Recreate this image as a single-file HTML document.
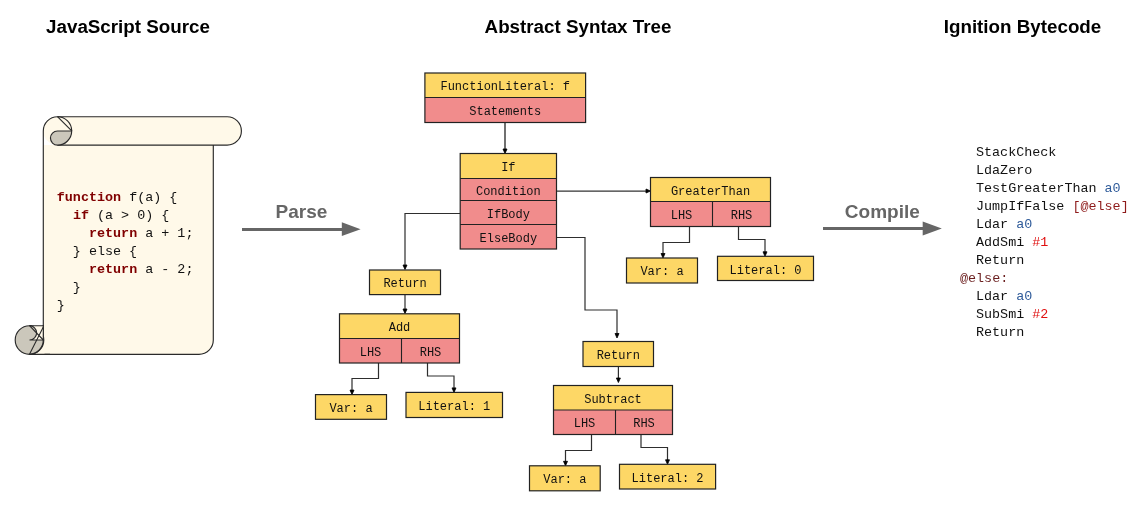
<!DOCTYPE html>
<html><head><meta charset="utf-8"><style>
html,body{margin:0;padding:0;background:#fff;}
svg{display:block;will-change:transform;}
.t{font-family:"Liberation Sans",sans-serif;font-weight:bold;font-size:18.8px;text-anchor:middle;fill:#000;}
.a{font-family:"Liberation Sans",sans-serif;font-weight:bold;font-size:19px;text-anchor:middle;fill:#666;}
.m{font-family:"Liberation Mono",monospace;font-size:12px;text-anchor:middle;fill:#111;}
.c{font-family:"Liberation Mono",monospace;font-size:13.4px;fill:#111;white-space:pre;}
.k{fill:#800000;font-weight:bold;}
.b{fill:#2f5b9a;}
.r{fill:#8e1a1a;}
.rr{fill:#e01010;}
.e{fill:#6b1f1f;}
</style></head><body>
<svg width="1145" height="509" viewBox="0 0 1145 509">
<text x="128" y="32.5" class="t">JavaScript Source</text>
<text x="578" y="32.5" class="t">Abstract Syntax Tree</text>
<text x="1022.5" y="32.5" class="t">Ignition Bytecode</text>
<g stroke="#2a2a2a" stroke-width="1.15" fill="#FFF9E9">
<path d="M43.3,130.7 L43.3,354.3 L199,354.3 A14.3,14.3 0 0 0 213.3,340 L213.3,145.1 L43.3,145.1 Z" stroke="none"/>
<path d="M227.2,116.7 A14.2,14.2 0 0 1 227.2,145.1 L57.5,145.1 A14.2,14.2 0 0 1 57.5,116.7 Z" stroke="none"/>
<path d="M57.5,145.1 L227.2,145.1 A14.2,14.2 0 0 0 227.2,116.7 L57.5,116.7 A14.2,14.2 0 0 0 43.3,130.9 L43.3,340" fill="none"/>
<path d="M57.5,116.7 A14.2,14.2 0 0 1 71.7,130.9" fill="none"/>
<path d="M213.3,145.1 L213.3,340 A14.3,14.3 0 0 1 199,354.3 L29.5,354.3" fill="none"/>
<path d="M57.5,131.0 L71.7,131.0 A14.2,14.2 0 0 1 57.5,145.1 A7.05,7.05 0 0 1 57.5,131.0 Z" fill="#CBC7BB"/>
<path d="M57.5,116.7 L71.7,130.9" fill="none"/>
<rect x="29.5" y="340" width="15" height="14.3" stroke="none"/>
<circle cx="29.5" cy="340" r="14.3" fill="#CBC7BB"/>
<path d="M29.5,325.7 L43.3,325.7 L43.3,340 L29.5,340 A7,7 0 0 0 29.5,325.7 Z" fill="#FFF9E9" stroke="none"/>
<path d="M29.5,325.7 L43.3,325.7 M29.5,340 L43.3,340 M29.5,325.7 A7,7 0 0 1 29.5,340" fill="none"/>
<path d="M29.5,325.7 L43.3,340 M43.3,327 L29.5,354.3" fill="none" stroke-width="1.1"/>
<path d="M43.3,325 L43.3,340 A14.3,14.3 0 0 1 29.5,354.3 L50,354.3" fill="none"/>
</g>
<text x="56.8" y="201" class="c" xml:space="preserve"><tspan class="k">function</tspan> f(a) {</text>
<text x="56.8" y="219" class="c" xml:space="preserve">  <tspan class="k">if</tspan> (a &gt; 0) {</text>
<text x="56.8" y="237" class="c" xml:space="preserve">    <tspan class="k">return</tspan> a + 1;</text>
<text x="56.8" y="255" class="c" xml:space="preserve">  } else {</text>
<text x="56.8" y="273" class="c" xml:space="preserve">    <tspan class="k">return</tspan> a - 2;</text>
<text x="56.8" y="291" class="c" xml:space="preserve">  }</text>
<text x="56.8" y="309" class="c" xml:space="preserve">}</text>
<text x="301.5" y="218" class="a">Parse</text>
<rect x="242" y="228" width="101" height="3" fill="#666"/>
<path d="M341.8,222.2 L360.6,229.2 L341.8,236 Z" fill="#666"/>
<text x="882.3" y="218" class="a">Compile</text>
<rect x="823" y="227" width="101" height="3" fill="#666"/>
<path d="M922.7,221.4 L941.8,228.5 L922.7,235.6 Z" fill="#666"/>
<text x="976" y="156" class="c" xml:space="preserve">StackCheck</text>
<text x="976" y="174" class="c" xml:space="preserve">LdaZero</text>
<text x="976" y="192" class="c" xml:space="preserve">TestGreaterThan <tspan class="b">a0</tspan></text>
<text x="976" y="210" class="c" xml:space="preserve">JumpIfFalse <tspan class="r">[@else]</tspan></text>
<text x="976" y="228" class="c" xml:space="preserve">Ldar <tspan class="b">a0</tspan></text>
<text x="976" y="246" class="c" xml:space="preserve">AddSmi <tspan class="rr">#1</tspan></text>
<text x="976" y="264" class="c" xml:space="preserve">Return</text>
<text x="960" y="282" class="c" xml:space="preserve"><tspan class="e">@else:</tspan></text>
<text x="976" y="300" class="c" xml:space="preserve">Ldar <tspan class="b">a0</tspan></text>
<text x="976" y="318" class="c" xml:space="preserve">SubSmi <tspan class="rr">#2</tspan></text>
<text x="976" y="336" class="c" xml:space="preserve">Return</text>
<path d="M505,122.5 L505,151" fill="none" stroke="#111" stroke-width="1.2"/>
<path d="M503,149.0 L507,149.0 L505,153.5 Z" fill="#000" stroke="#000" stroke-width="0.8" stroke-linejoin="round"/>
<path d="M556.5,191 L646,191" fill="none" stroke="#333" stroke-width="1.25"/>
<path d="M646.0,189 L646.0,193 L650.5,191 Z" fill="#000" stroke="#000" stroke-width="0.8" stroke-linejoin="round"/>
<path d="M460.5,213.5 L405,213.5 L405,266" fill="none" stroke="#2e2e2e" stroke-width="1.2"/>
<path d="M403,265.0 L407,265.0 L405,269.5 Z" fill="#000" stroke="#000" stroke-width="0.8" stroke-linejoin="round"/>
<path d="M556.5,237.5 L585,237.5 L585,310 L617,310 L617,334" fill="none" stroke="#2e2e2e" stroke-width="1.2"/>
<path d="M615,333.5 L619,333.5 L617,338 Z" fill="#000" stroke="#000" stroke-width="0.8" stroke-linejoin="round"/>
<path d="M405,294.5 L405,310" fill="none" stroke="#2e2e2e" stroke-width="1.2"/>
<path d="M403,309.0 L407,309.0 L405,313.5 Z" fill="#000" stroke="#000" stroke-width="0.8" stroke-linejoin="round"/>
<path d="M378.5,363 L378.5,378.5 L352,378.5 L352,391" fill="none" stroke="#2e2e2e" stroke-width="1.2"/>
<path d="M350,390.1 L354,390.1 L352,394.6 Z" fill="#000" stroke="#000" stroke-width="0.8" stroke-linejoin="round"/>
<path d="M427.5,363 L427.5,376 L454,376 L454,389" fill="none" stroke="#2e2e2e" stroke-width="1.2"/>
<path d="M452,387.9 L456,387.9 L454,392.4 Z" fill="#000" stroke="#000" stroke-width="0.8" stroke-linejoin="round"/>
<path d="M689.5,226.5 L689.5,242.5 L663,242.5 L663,254" fill="none" stroke="#2e2e2e" stroke-width="1.2"/>
<path d="M661,253.5 L665,253.5 L663,258 Z" fill="#000" stroke="#000" stroke-width="0.8" stroke-linejoin="round"/>
<path d="M738.5,226.5 L738.5,239.5 L765,239.5 L765,253" fill="none" stroke="#2e2e2e" stroke-width="1.2"/>
<path d="M763,251.8 L767,251.8 L765,256.3 Z" fill="#000" stroke="#000" stroke-width="0.8" stroke-linejoin="round"/>
<path d="M618.4,366.5 L618.4,379" fill="none" stroke="#2e2e2e" stroke-width="1.2"/>
<path d="M616.4,378.0 L620.4,378.0 L618.4,382.5 Z" fill="#000" stroke="#000" stroke-width="0.8" stroke-linejoin="round"/>
<path d="M591.5,434.5 L591.5,450.5 L565.5,450.5 L565.5,462" fill="none" stroke="#2e2e2e" stroke-width="1.2"/>
<path d="M563.5,461.3 L567.5,461.3 L565.5,465.8 Z" fill="#000" stroke="#000" stroke-width="0.8" stroke-linejoin="round"/>
<path d="M641,434.5 L641,447.5 L667.5,447.5 L667.5,461" fill="none" stroke="#2e2e2e" stroke-width="1.2"/>
<path d="M665.5,459.8 L669.5,459.8 L667.5,464.3 Z" fill="#000" stroke="#000" stroke-width="0.8" stroke-linejoin="round"/>
<rect x="424.9" y="73" width="160.70000000000005" height="24.5" fill="#FDD766"/>
<rect x="424.9" y="97.5" width="160.70000000000005" height="25.0" fill="#F18C8C"/>
<rect x="424.9" y="73" width="160.70000000000005" height="49.5" fill="none" stroke="#222" stroke-width="1.2"/>
<line x1="424.9" y1="97.5" x2="585.6" y2="97.5" stroke="#222" stroke-width="1.1"/>
<text x="505.25" y="90" class="m">FunctionLiteral: f</text>
<text x="505.25" y="114.5" class="m">Statements</text>
<rect x="460.2" y="153.5" width="96.30000000000001" height="25.0" fill="#FDD766"/>
<rect x="460.2" y="178.5" width="96.30000000000001" height="22.0" fill="#F18C8C"/>
<rect x="460.2" y="200.5" width="96.30000000000001" height="24.0" fill="#F18C8C"/>
<rect x="460.2" y="224.5" width="96.30000000000001" height="24.5" fill="#F18C8C"/>
<rect x="460.2" y="153.5" width="96.30000000000001" height="95.5" fill="none" stroke="#222" stroke-width="1.2"/>
<line x1="460.2" y1="178.5" x2="556.5" y2="178.5" stroke="#222" stroke-width="1.1"/>
<line x1="460.2" y1="200.5" x2="556.5" y2="200.5" stroke="#222" stroke-width="1.1"/>
<line x1="460.2" y1="224.5" x2="556.5" y2="224.5" stroke="#222" stroke-width="1.1"/>
<text x="508.35" y="170.6" class="m">If</text>
<text x="508.35" y="195.1" class="m">Condition</text>
<text x="508.35" y="218" class="m">IfBody</text>
<text x="508.35" y="241.9" class="m">ElseBody</text>
<rect x="650.5" y="177.5" width="120.0" height="24.0" fill="#FDD766"/>
<rect x="650.5" y="201.5" width="120.0" height="25.0" fill="#F18C8C"/>
<rect x="650.5" y="177.5" width="120.0" height="49.0" fill="none" stroke="#222" stroke-width="1.2"/>
<line x1="650.5" y1="201.5" x2="770.5" y2="201.5" stroke="#222" stroke-width="1.1"/>
<text x="710.5" y="194.8" class="m">GreaterThan</text>
<text x="681.5" y="219.3" class="m">LHS</text>
<text x="741.5" y="219.3" class="m">RHS</text>
<line x1="712.5" y1="201.5" x2="712.5" y2="226.5" stroke="#222" stroke-width="1.1"/>
<rect x="626.5" y="258" width="71.0" height="25" fill="#FDD766"/>
<rect x="626.5" y="258" width="71.0" height="25" fill="none" stroke="#222" stroke-width="1.2"/>
<text x="662.0" y="275.1" class="m">Var: a</text>
<rect x="717.5" y="256.3" width="96.0" height="24.19999999999999" fill="#FDD766"/>
<rect x="717.5" y="256.3" width="96.0" height="24.19999999999999" fill="none" stroke="#222" stroke-width="1.2"/>
<text x="765.5" y="273.5" class="m">Literal: 0</text>
<rect x="369.5" y="270" width="71.0" height="24.600000000000023" fill="#FDD766"/>
<rect x="369.5" y="270" width="71.0" height="24.600000000000023" fill="none" stroke="#222" stroke-width="1.2"/>
<text x="405.0" y="287.4" class="m">Return</text>
<rect x="339.5" y="313.8" width="120.0" height="24.69999999999999" fill="#FDD766"/>
<rect x="339.5" y="338.5" width="120.0" height="24.5" fill="#F18C8C"/>
<rect x="339.5" y="313.8" width="120.0" height="49.19999999999999" fill="none" stroke="#222" stroke-width="1.2"/>
<line x1="339.5" y1="338.5" x2="459.5" y2="338.5" stroke="#222" stroke-width="1.1"/>
<text x="399.5" y="330.8" class="m">Add</text>
<text x="370.5" y="355.5" class="m">LHS</text>
<text x="430.5" y="355.5" class="m">RHS</text>
<line x1="401.5" y1="338.5" x2="401.5" y2="363" stroke="#222" stroke-width="1.1"/>
<rect x="315.5" y="394.6" width="71.0" height="24.69999999999999" fill="#FDD766"/>
<rect x="315.5" y="394.6" width="71.0" height="24.69999999999999" fill="none" stroke="#222" stroke-width="1.2"/>
<text x="351.0" y="411.5" class="m">Var: a</text>
<rect x="406" y="392.4" width="96.5" height="25.100000000000023" fill="#FDD766"/>
<rect x="406" y="392.4" width="96.5" height="25.100000000000023" fill="none" stroke="#222" stroke-width="1.2"/>
<text x="454.25" y="409.7" class="m">Literal: 1</text>
<rect x="583" y="341.5" width="70.5" height="25.0" fill="#FDD766"/>
<rect x="583" y="341.5" width="70.5" height="25.0" fill="none" stroke="#222" stroke-width="1.2"/>
<text x="618.25" y="358.6" class="m">Return</text>
<rect x="553.5" y="385.5" width="119.0" height="24.5" fill="#FDD766"/>
<rect x="553.5" y="410" width="119.0" height="24.5" fill="#F18C8C"/>
<rect x="553.5" y="385.5" width="119.0" height="49.0" fill="none" stroke="#222" stroke-width="1.2"/>
<line x1="553.5" y1="410" x2="672.5" y2="410" stroke="#222" stroke-width="1.1"/>
<text x="613.0" y="402.7" class="m">Subtract</text>
<text x="584.5" y="426.8" class="m">LHS</text>
<text x="644.0" y="426.8" class="m">RHS</text>
<line x1="615.5" y1="410" x2="615.5" y2="434.5" stroke="#222" stroke-width="1.1"/>
<rect x="529.5" y="465.8" width="70.70000000000005" height="25.0" fill="#FDD766"/>
<rect x="529.5" y="465.8" width="70.70000000000005" height="25.0" fill="none" stroke="#222" stroke-width="1.2"/>
<text x="564.85" y="483.3" class="m">Var: a</text>
<rect x="619.5" y="464.3" width="96.10000000000002" height="24.69999999999999" fill="#FDD766"/>
<rect x="619.5" y="464.3" width="96.10000000000002" height="24.69999999999999" fill="none" stroke="#222" stroke-width="1.2"/>
<text x="667.55" y="481.5" class="m">Literal: 2</text>
</svg>
</body></html>
